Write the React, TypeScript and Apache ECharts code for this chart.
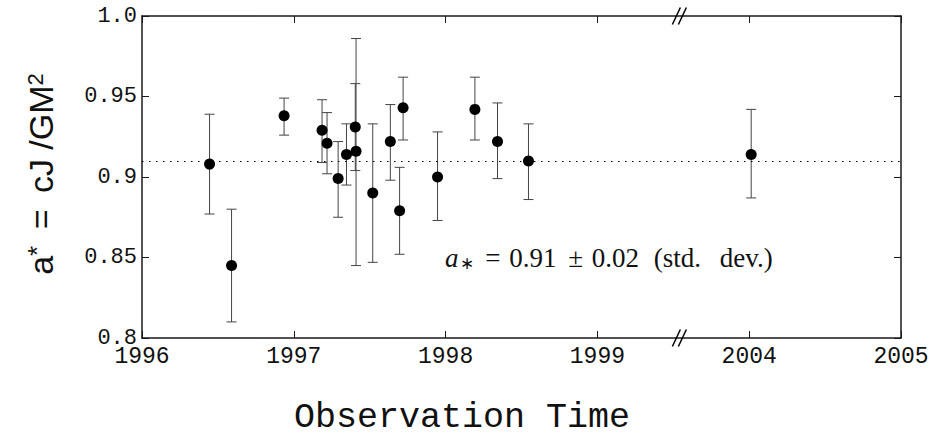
import React, { useEffect, useRef } from 'react';
import * as echarts from 'echarts';

// Observation epochs (decimal years) and measured spin values with error bar limits
const obsYear = [1996.445, 1996.590, 1996.936, 1997.186, 1997.219, 1997.292, 1997.347, 1997.405, 1997.410, 1997.520, 1997.636, 1997.697, 1997.720, 1997.947, 1998.193, 1998.342, 1998.546, 2004.013];
const aStar = [0.908, 0.845, 0.938, 0.929, 0.921, 0.899, 0.914, 0.931, 0.916, 0.890, 0.922, 0.879, 0.943, 0.900, 0.942, 0.922, 0.910, 0.914];
const errLow = [0.877, 0.810, 0.926, 0.909, 0.902, 0.875, 0.895, 0.904, 0.845, 0.847, 0.898, 0.852, 0.923, 0.873, 0.923, 0.899, 0.886, 0.887];
const errHigh = [0.939, 0.880, 0.949, 0.948, 0.940, 0.922, 0.933, 0.958, 0.986, 0.933, 0.945, 0.906, 0.962, 0.928, 0.962, 0.946, 0.933, 0.942];
const meanA = 0.91;
const xTickLabels = ['1996', '1997', '1998', '1999', '2004', '2005'];
const yTickLabels = ['0.8', '0.85', '0.9', '0.95', '1.0'];
const breakPos = 3.54; // axis position of the broken-axis mark

// broken axis: 1996-1999 maps to 0-3, 2004-2005 maps to 4-5
function toAxis(year: number) {
  return year < 2000 ? year - 1996 : year - 2000;
}

const MONO = 'Liberation Mono';
const SERIF = 'Liberation Serif';
const SANS = 'Liberation Sans';

export default function App() {
  const ref = useRef<HTMLDivElement>(null);
  useEffect(() => {
    document.body.style.margin = '0';
    const chart = echarts.init(ref.current as HTMLDivElement, null, { renderer: 'svg' });
    const pts = obsYear.map((y, i) => [toAxis(y), aStar[i]]);
    const errs = obsYear.map((y, i) => [toAxis(y), errLow[i], errHigh[i]]);

    const axisLine = { show: true, onZero: false, lineStyle: { color: '#1a1a1a', width: 1.5 } };
    const axisTick = { show: true, inside: true, length: 7, lineStyle: { color: '#1a1a1a', width: 1 } };

    chart.setOption({
      animation: false,
      grid: { left: 142, right: 31, top: 16, bottom: 97 },
      xAxis: [
        {
          type: 'value', min: 0, max: 5, interval: 1, position: 'bottom',
          axisLine, axisTick,
          axisLabel: {
            formatter: (v: number) => xTickLabels[Math.round(v)],
            fontFamily: MONO, fontSize: 23, lineHeight: 18, color: '#111', margin: 9.5,
          },
          splitLine: { show: false },
        },
        {
          type: 'value', min: 0, max: 5, interval: 1, position: 'top',
          axisLine, axisTick, axisLabel: { show: false }, splitLine: { show: false },
        },
      ],
      yAxis: [
        {
          type: 'value', min: 0.8, max: 1.0, interval: 0.05, position: 'left',
          axisLine, axisTick,
          axisLabel: {
            formatter: (v: number) => yTickLabels[Math.round((v - 0.8) / 0.05)],
            fontFamily: MONO, fontSize: 22, lineHeight: 16, color: '#111', margin: 5,
          },
          splitLine: { show: false },
        },
        {
          type: 'value', min: 0.8, max: 1.0, interval: 0.05, position: 'right',
          axisLine, axisTick, axisLabel: { show: false }, splitLine: { show: false },
        },
      ],
      series: [
        {
          type: 'custom',
          xAxisIndex: 0, yAxisIndex: 0,
          data: errs,
          encode: { x: 0, y: [1, 2] },
          z: 2,
          renderItem: (params: any, api: any) => {
            const x = api.value(0);
            const top = api.coord([x, api.value(2)]);
            const bot = api.coord([x, api.value(1)]);
            const w = 5;
            const style = { stroke: '#444', lineWidth: 1 };
            return {
              type: 'group',
              children: [
                { type: 'line', shape: { x1: top[0], y1: top[1], x2: bot[0], y2: bot[1] }, style },
                { type: 'line', shape: { x1: top[0] - w, y1: top[1], x2: top[0] + w, y2: top[1] }, style },
                { type: 'line', shape: { x1: bot[0] - w, y1: bot[1], x2: bot[0] + w, y2: bot[1] }, style },
              ],
            };
          },
        },
        {
          type: 'scatter',
          xAxisIndex: 0, yAxisIndex: 0,
          data: pts,
          symbol: 'circle',
          symbolSize: 11,
          itemStyle: { color: '#000', opacity: 1 },
          z: 3,
          markLine: {
            silent: true,
            symbol: ['none', 'none'],
            label: { show: false },
            lineStyle: { color: '#000', type: [1.5, 5.5], width: 1.2, opacity: 1 },
            data: [{ yAxis: meanA }],
          },
        },
        {
          type: 'custom',
          xAxisIndex: 0, yAxisIndex: 0,
          data: [[breakPos, 1.0], [breakPos, 0.8]],
          clip: false,
          z: 5,
          renderItem: (params: any, api: any) => {
            const p = api.coord([api.value(0), api.value(1)]);
            const style = { stroke: '#000', lineWidth: 1.5 };
            return {
              type: 'group',
              children: [-3, 3].map((dx) => ({
                type: 'line',
                shape: { x1: p[0] + dx - 4, y1: p[1] + 8.5, x2: p[0] + dx + 4, y2: p[1] - 8.5 },
                style,
              })),
            };
          },
        },
      ],
      graphic: [
        {
          type: 'text',
          x: 41, y: 174,
          rotation: Math.PI / 2,
          style: {
            text: '{a|a}{s|*} {o|=} {m|cJ} {m|/GM}{t|2}',
            fontFamily: SANS, fontSize: 34, fill: '#111',
            align: 'center', verticalAlign: 'middle',
            rich: {
              a: { fontFamily: SANS, fontSize: 34, fill: '#111' },
              s: { fontFamily: SANS, fontSize: 26, fill: '#111', verticalAlign: 'top' },
              o: { fontFamily: SANS, fontSize: 34, fill: '#111', padding: [0, 7, 0, 7] },
              m: { fontFamily: SANS, fontSize: 34, fill: '#111' },
              t: { fontFamily: SANS, fontSize: 22, fill: '#111', verticalAlign: 'top' },
            },
          },
        },
        {
          type: 'text',
          x: 294, y: 418,
          style: {
            text: 'Observation Time',
            fontFamily: MONO, fontSize: 35, lineHeight: 22, fill: '#111',
            align: 'left', verticalAlign: 'middle',
          },
        },
        {
          type: 'text',
          x: 445, y: 258,
          style: {
            text: '{a|a}{s|∗} {o|=} {n|0.91} {o|±} {n|0.02} {p|(std.} {q|dev.)}',
            fontFamily: SERIF, fontSize: 27, fill: '#111',
            align: 'left', verticalAlign: 'middle',
            rich: {
              a: { fontFamily: SERIF, fontSize: 27, fontStyle: 'italic', fill: '#111' },
              s: { fontFamily: SERIF, fontSize: 17, fill: '#111', verticalAlign: 'bottom', padding: [0, 0, 0, 1] },
              o: { fontFamily: SERIF, fontSize: 27, fill: '#111', padding: [0, 2, 0, 5] },
              n: { fontFamily: SERIF, fontSize: 27, fill: '#111' },
              p: { fontFamily: SERIF, fontSize: 27, fill: '#111', padding: [0, 0, 0, 8] },
              q: { fontFamily: SERIF, fontSize: 27, fill: '#111', padding: [0, 0, 0, 12] },
            },
          },
        },
      ],
    });
    return () => chart.dispose();
  }, []);
  return <div ref={ref} style={{ position: 'absolute', left: 0, top: 0, width: 932, height: 435 }} />;
}
